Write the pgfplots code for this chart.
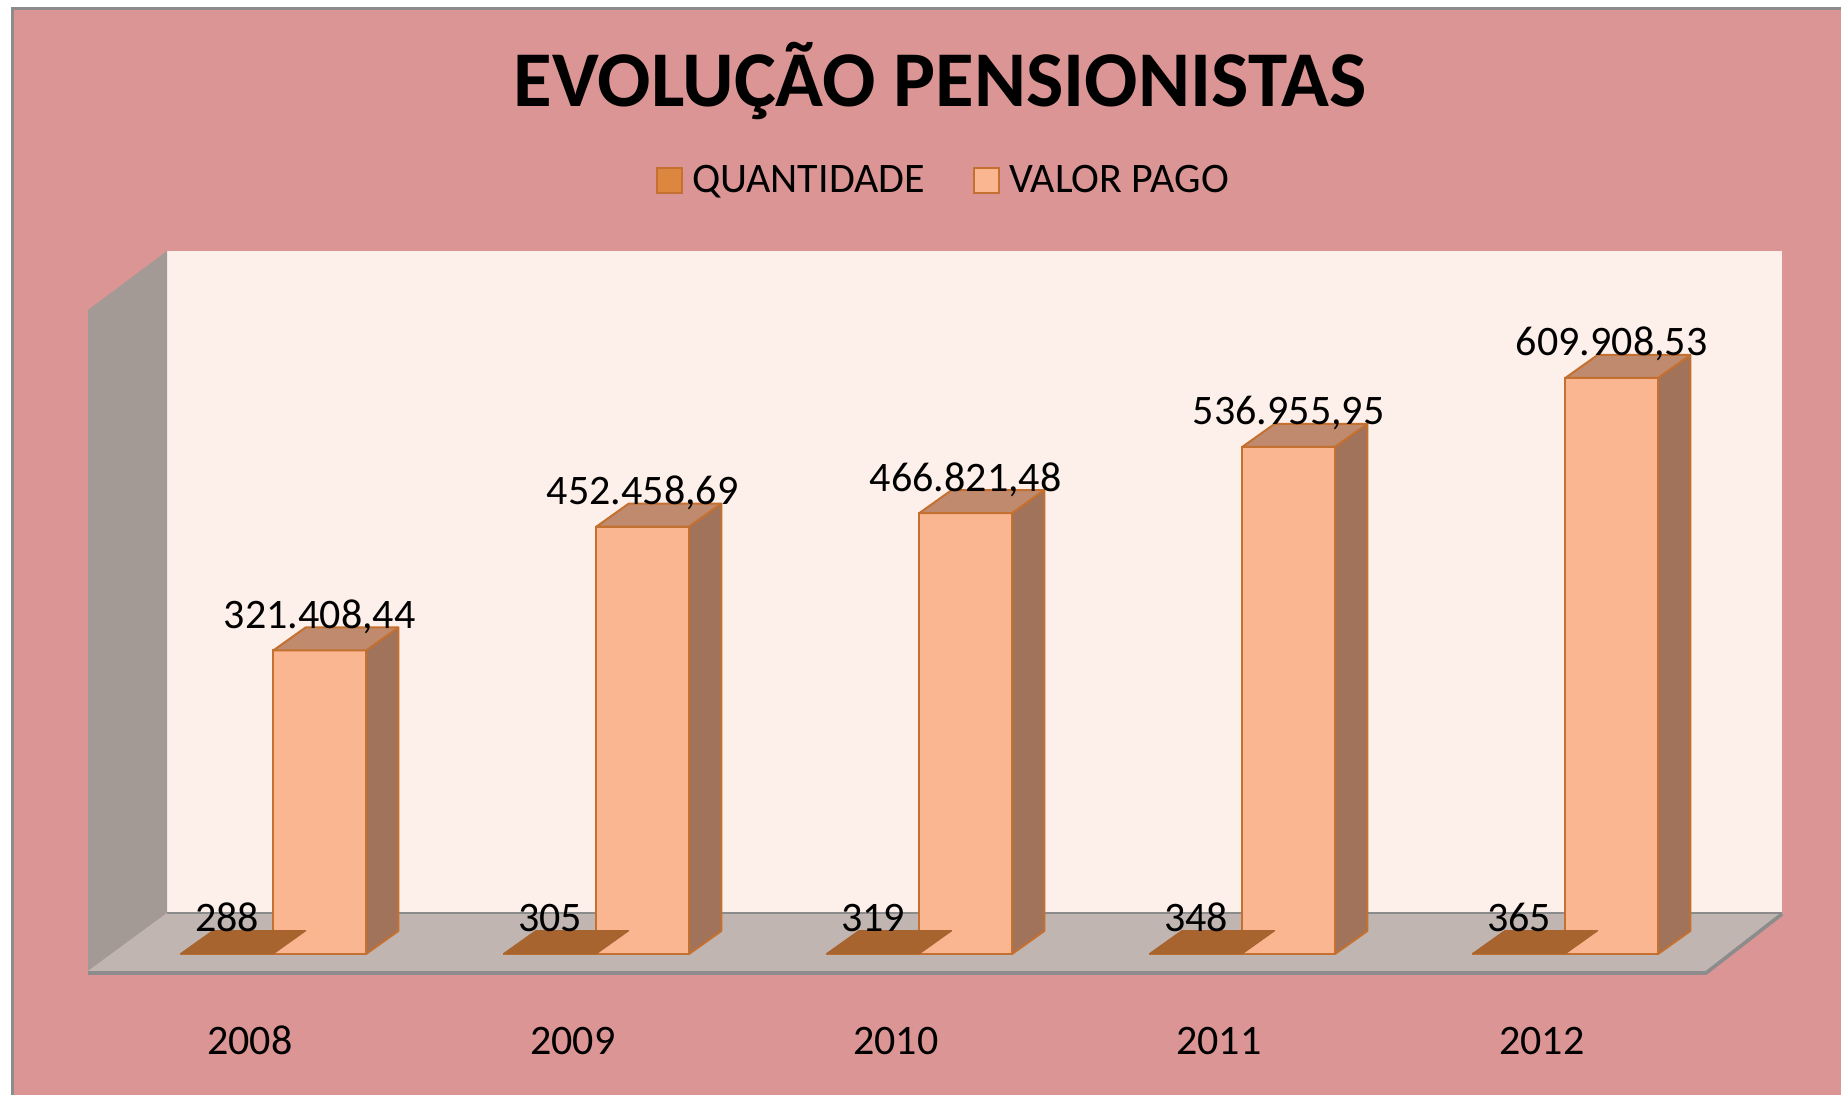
\documentclass[border=0pt]{standalone}
\usepackage{pgfplots}
\pgfplotsset{compat=1.18}
\usepackage{pgfplotstable}
\usepackage{fontspec}
\setmainfont{Carlito}

\definecolor{bgpink}{RGB}{218,149,148}
\definecolor{wallback}{RGB}{253,239,233}
\definecolor{wallleft}{RGB}{163,154,150}
\definecolor{floorc}{RGB}{192,181,177}
\definecolor{edgegray}{RGB}{140,140,140}
\definecolor{vfront}{RGB}{249,182,144}
\definecolor{vside}{RGB}{160,115,90}
\definecolor{vtop}{RGB}{191,138,110}
\definecolor{baredge}{RGB}{196,112,48}
\definecolor{qtop}{RGB}{168,100,46}
\definecolor{qleg}{RGB}{220,134,64}

\pgfplotstableread{
x v lab
0 288 288
1 305 305
2 319 319
3 348 348
4 365 365
}\qtab
\pgfplotstableread{
x v lab
0 321408.44 321.408{,}44
1 452458.69 452.458{,}69
2 466821.48 466.821{,}48
3 536955.95 536.955{,}95
4 609908.53 609.908{,}53
}\vtab

\pgfdeclareplotmark{nothing}{}

\newcommand\computeh{%
  \begingroup
  \pgfkeys{/pgf/fpu=true,/pgf/fpu/output format=fixed}%
  \pgfmathparse{\val*0.000472202}%
  \xdef\barh{\pgfmathresult}%
  \endgroup}

\pgfplotsset{
  valfaces/.style={
    scatter, only marks, mark=nothing, forget plot,
    visualization depends on={rawy \as \val},
    scatter/@pre marker code/.code={%
      \computeh
      \filldraw[fill=vside,draw=baredge,line width=1pt,line join=round]
        (46.35pt,0pt) -- ++(16.15pt,11.5pt) -- ++(0pt,-\barh pt) -- (46.35pt,-\barh pt) -- cycle;
      \filldraw[fill=vtop,draw=baredge,line width=1pt,line join=round]
        (0pt,0pt) -- ++(16.15pt,11.5pt) -- ++(46.35pt,0pt) -- (46.35pt,0pt) -- cycle;
    },
    scatter/@post marker code/.code={},
  },
  qfaces/.style={
    scatter, only marks, mark=nothing, forget plot,
    scatter/@pre marker code/.code={%
      \filldraw[fill=qtop,draw=qtop,line width=0.6pt,line join=round]
        (-46.35pt,0pt) -- ++(16.15pt,11.5pt) -- (16.15pt,11.5pt) -- (0pt,0pt) -- cycle;
    },
    scatter/@post marker code/.code={},
  },
}

\begin{document}
\begin{tikzpicture}
\begin{scope}[x=0.5pt,y=-0.5pt,shift={(0pt,547.5pt)}]
  \fill[white] (0,0) rectangle (1841,1095);
  \fill[bgpink] (12,9) rectangle (1841,1095);
  \draw[edgegray,line width=1.5pt] (12,1095) -- (12,9) -- (1841,9);
  \fill[wallback] (167,251) rectangle (1782,913);
  \fill[wallleft] (88,310) -- (167,251) -- (167,913) -- (88,971) -- cycle;
  \fill[floorc] (88,971) -- (167,913) -- (1782,913) -- (1706,972) -- cycle;
  \draw[edgegray,line width=0.8pt] (167,913) -- (1782,913);
  \draw[edgegray,line width=1.8pt,line join=round] (88,973) -- (1706,973) -- (1782,914);
\end{scope}
\begin{axis}[
  at={(0pt,0pt)}, anchor=south west,
  width=920.5pt, height=547.5pt, scale only axis,
  xmin=-0.84613, xmax=4.85356,
  ymin=-149300, ymax=1010160,
  clip=false,
  axis line style={draw=none},
  major tick length=0pt,
  ytick=\empty,
  xtick={0,1,2,3,4},
  xticklabels={2008,2009,2010,2011,2012},
  xticklabel style={anchor=base, xshift=-11.75pt, yshift=20pt, font=\fontsize{21}{25}\selectfont},
  title={EVOLUÇÃO PENSIONISTAS},
  title style={at={(0.5106,0.8922)}, anchor=base, font=\bfseries\fontsize{39.5}{47}\selectfont},
  legend columns=2,
  legend style={at={(0.513,0.8352)}, anchor=center, draw=none, fill=none,
    font=\fontsize{21}{25}\selectfont,
    /tikz/every even column/.append style={column sep=22pt}},
  legend image code/.code={\draw[#1,line width=1.2pt] (0pt,-6.25pt) rectangle (12.5pt,6.25pt);\path (15pt,0pt);},
]
\addplot[qfaces] table[x=x, y=v]{\qtab};
\addplot[ybar, bar width=46.35pt, bar shift=-23.175pt, fill=qleg, draw=baredge, line width=1pt,
  nodes near coords={\pgfplotspointmeta}, point meta=explicit symbolic,
  every node near coord/.append style={anchor=base, xshift=-23.175pt, yshift=11pt, text=black, font=\fontsize{21}{25}\selectfont}]
  table[x=x, y=v, meta=lab]{\qtab};
\addlegendentry{QUANTIDADE}
\addplot[valfaces] table[x=x, y=v]{\vtab};
\addplot[ybar, bar width=46.35pt, bar shift=23.175pt, fill=vfront, draw=baredge, line width=1pt,
  nodes near coords={\pgfplotspointmeta}, point meta=explicit symbolic,
  every node near coord/.append style={anchor=base, xshift=23.175pt, yshift=11pt, text=black, font=\fontsize{21}{25}\selectfont}]
  table[x=x, y=v, meta=lab]{\vtab};
\addlegendentry{VALOR PAGO}
\end{axis}
\pgfresetboundingbox
\useasboundingbox (0pt,0pt) rectangle (920.5pt,547.5pt);
\end{tikzpicture}
\end{document}
